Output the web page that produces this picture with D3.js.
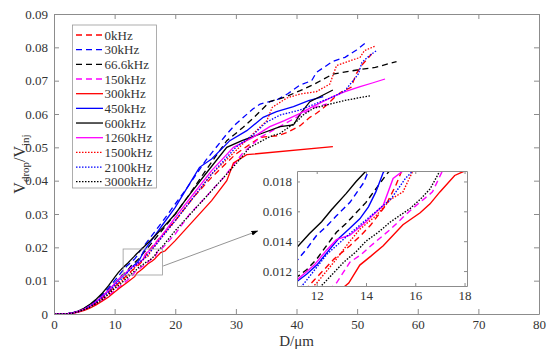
<!DOCTYPE html>
<html><head><meta charset="utf-8">
<script src="https://cdn.jsdelivr.net/npm/d3@7"></script>
<style>
body{margin:0;background:#fff}
svg{display:block}
</style>
</head><body>
<svg id="c" width="550" height="352"></svg>
<script>
// ---------- data ----------
const seriesNames = ["0kHz","30kHz","66.6kHz","150kHz","300kHz","450kHz","600kHz","1260kHz","1500kHz","2100kHz","3000kHz"];

const s0 = [[0,0],[1,0],[2,0.00003],[3,0.0003],[4,0.0007],[5,0.0014],[6,0.0023],[7,0.0034],[8,0.0048],[9,0.0064],[10,0.0082],[11,0.0098],[11.9,0.0114],[12.3,0.0121],[12.7,0.0128],[13.35,0.0137],[13.8,0.0144],[14.2,0.0151],[14.8,0.0164],[15.2,0.0177],[15.45,0.0187],[16,0.0198],[18,0.024],[20,0.028],[23,0.035],[26,0.041],[30,0.048],[34,0.053],[37,0.0535],[38.5,0.0545],[40.6,0.0565],[42.2,0.059],[43.3,0.0602],[45,0.0627],[46.4,0.0652],[47.5,0.0667],[49,0.068],[49.9,0.0722],[50.8,0.0747],[52.4,0.078]];
const s30 = [[0,0],[1,0],[2,0.00004],[3,0.0003],[4,0.0009],[5,0.0017],[6,0.0028],[7,0.0042],[8,0.0059],[9,0.0078],[10,0.0100],[10.6,0.0113],[11.2,0.0127],[11.6,0.0135],[12,0.0144],[12.4,0.0150],[12.8,0.0157],[13.35,0.0166],[13.9,0.0179],[14.1,0.0187],[16,0.0232],[18,0.028],[20,0.033],[22,0.038],[25,0.046],[28.5,0.054],[30,0.057],[32.8,0.0615],[34,0.063],[36.7,0.0642],[38.5,0.066],[40.6,0.0687],[42.5,0.070],[43.3,0.0725],[46,0.0758],[48,0.077],[49.9,0.0792],[51.5,0.0815]];
const s66 = [[0,0],[1,0],[2,0.00003],[3,0.0003],[4,0.0008],[5,0.0016],[6,0.0026],[7,0.0039],[8,0.0054],[9,0.0072],[10,0.0092],[10.6,0.0104],[11.2,0.0116],[11.6,0.0121],[12,0.0128],[12.4,0.0137],[12.8,0.0146],[13.2,0.0152],[13.6,0.0159],[14.0,0.0166],[14.4,0.0175],[14.8,0.0184],[15.1,0.0190],[18,0.0255],[20,0.030],[22,0.035],[25,0.043],[28.5,0.052],[31.2,0.056],[33,0.059],[35.6,0.0637],[38,0.065],[40.6,0.067],[43,0.069],[46,0.072],[50,0.0732],[53,0.074],[56.5,0.0757]];
const s150 = [[0,0],[1,0],[2,0.00002],[3,0.0002],[4,0.0006],[5,0.0012],[6,0.0020],[7,0.0029],[8,0.0041],[9,0.0055],[10,0.0070],[11,0.0085],[12,0.0100],[12.8,0.0112],[13.35,0.0126],[13.8,0.0131],[14.2,0.0137],[15.0,0.0148],[15.5,0.0156],[15.9,0.0162],[16.7,0.0173],[17.1,0.0187],[18,0.020],[20,0.024],[22.4,0.030],[25,0.035],[28,0.041],[31,0.048],[34,0.053],[37,0.056],[40,0.059],[43,0.062],[45,0.063]];
const s300 = [[0,0],[1,0],[2,0.00002],[3,0.0002],[4,0.0006],[5,0.0011],[6,0.0018],[7,0.0028],[8,0.0039],[9,0.0051],[10,0.0066],[11,0.0080],[12,0.0094],[13.3,0.0112],[13.75,0.0124],[14.2,0.0130],[14.7,0.0137],[15.1,0.0144],[15.5,0.0151],[16.2,0.0159],[16.6,0.0165],[17,0.0173],[17.6,0.0184],[18,0.0187],[18.3,0.0189],[20,0.022],[23,0.028],[26,0.034],[28.5,0.040],[29.6,0.0453],[31.8,0.0478],[46,0.0502]];
const s450 = [[0,0],[1,0],[2,0.00003],[3,0.0003],[4,0.0008],[5,0.0015],[6,0.0025],[7,0.0038],[8,0.0053],[9,0.0070],[10,0.0090],[10.6,0.0102],[11.2,0.0113],[11.6,0.0118],[12,0.0124],[12.5,0.0134],[12.9,0.0142],[13.3,0.0148],[13.75,0.0155],[14.1,0.0163],[14.4,0.0173],[14.7,0.0186],[15,0.0193],[18,0.027],[20,0.032],[22,0.038],[24,0.044],[26,0.0465],[29,0.052],[31.8,0.055],[34.5,0.059],[36.7,0.0607],[39.5,0.0622],[42,0.064],[44.4,0.0652]];
const s600 = [[0,0],[1,0],[2,0.00004],[3,0.0003],[4,0.0009],[5,0.0018],[6,0.0030],[7,0.0045],[8,0.0063],[9,0.0085],[10,0.0110],[10.6,0.0124],[11.2,0.0136],[11.7,0.0145],[12.2,0.0153],[12.6,0.0161],[13.2,0.0172],[13.6,0.0180],[14.0,0.0187],[16,0.0222],[18,0.026],[20,0.030],[22,0.035],[25,0.042],[28.5,0.050],[31,0.052],[34,0.054],[37.3,0.0562],[39.5,0.0567],[40.6,0.060],[42.2,0.0637],[44.4,0.0657],[46,0.0672]];
const s1260 = [[0,0],[1,0],[2,0.00003],[3,0.0003],[4,0.0008],[5,0.0015],[6,0.0025],[7,0.0038],[8,0.0053],[9,0.0071],[10,0.0091],[10.6,0.0103],[11.2,0.0114],[11.9,0.0124],[12.4,0.0134],[12.8,0.0141],[13.35,0.0144],[14.0,0.0153],[14.7,0.0164],[15.1,0.0182],[15.5,0.0187],[16,0.0195],[18,0.024],[20,0.029],[23,0.036],[26,0.043],[29.6,0.050],[32.8,0.053],[35.6,0.0562],[38,0.058],[40.6,0.0602],[43,0.0625],[46,0.0652],[48,0.0667],[50.5,0.0682],[52.5,0.0693],[54.6,0.0705]];
const s1500 = [[0,0],[1,0],[2,0.00003],[3,0.0002],[4,0.0007],[5,0.0014],[6,0.0022],[7,0.0034],[8,0.0047],[9,0.0062],[10,0.0080],[11,0.0096],[12,0.0112],[12.8,0.0128],[13.3,0.0139],[13.75,0.0148],[14.4,0.0157],[15,0.0168],[15.5,0.0173],[15.9,0.0187],[18,0.0235],[20,0.028],[23,0.035],[26,0.042],[30,0.049],[32.8,0.054],[35.1,0.058],[36,0.062],[38.4,0.0648],[40.6,0.066],[43.3,0.0667],[45.5,0.069],[46.6,0.0745],[50.5,0.077],[51.2,0.079],[53,0.0804]];
const s2100 = [[0,0],[1,0],[2,0.00003],[3,0.0003],[4,0.0007],[5,0.0014],[6,0.0024],[7,0.0036],[8,0.0050],[9,0.0066],[10,0.0085],[10.8,0.0099],[11.5,0.0112],[12.4,0.0131],[12.8,0.0137],[13.2,0.0143],[13.7,0.0150],[14.2,0.0157],[15.0,0.0168],[15.6,0.0182],[15.9,0.0187],[18,0.0235],[20,0.028],[23,0.035],[26,0.042],[30,0.050],[33,0.054],[35,0.0575],[37.3,0.0597],[40.6,0.0612],[43,0.063],[46.1,0.0652],[48,0.067],[50.2,0.072],[50.8,0.0755],[52,0.0775],[53.2,0.079]];
const s3000 = [[0,0],[1,0],[2,0.00003],[3,0.0002],[4,0.0007],[5,0.0013],[6,0.0021],[7,0.0032],[8,0.0044],[9,0.0059],[10,0.0076],[11,0.0091],[12.3,0.0112],[12.7,0.0119],[13.1,0.0126],[13.6,0.0133],[14.0,0.0140],[14.5,0.0146],[15.0,0.0153],[15.8,0.0162],[16.2,0.0168],[16.6,0.0175],[17,0.0187],[18,0.0205],[20,0.025],[23,0.031],[26,0.037],[30,0.045],[32.3,0.050],[35.6,0.0532],[37.3,0.0542],[40,0.0577],[41.1,0.0597],[42.8,0.0617],[46,0.0632],[48.3,0.0642],[52.3,0.0655]];

const seriesValues = [s0,s30,s66,s150,s300,s450,s600,s1260,s1500,s2100,s3000];

const xTicks = [0,10,20,30,40,50,60,70,80];
const yTicks = [0,0.01,0.02,0.03,0.04,0.05,0.06,0.07,0.08,0.09];
const insetXTicks = [12,14,16,18];
const insetYTicks = [0.012,0.014,0.016,0.018];
const insetXDomain = [11.2,18.1];
const insetYDomain = [0.011,0.0187];
const zoomBoxX = [11.4,17.9];
const zoomBoxY = [0.0117,0.0195];
const arrowFrom = [18.0,0.0144];
const arrowTo = [33.6,0.0249];

// ---------- styles ----------
const colors = ["#ff0000","#0000ff","#000000","#ff00ff","#ff0000","#0000ff","#000000","#ff00ff","#ff0000","#0000ff","#000000"];
const dashes = ["6,4","6,4","6,4","6,4",null,null,null,null,"1.5,1.5","1.5,1.5","1.5,1.5"];
const frameColor = "#8c8c8c";
const FONT = "'Liberation Serif', Tinos, 'Times New Roman', 'DejaVu Serif', serif";

// ---------- layout ----------
const svg = d3.select("#c");
const M = {l:54, r:539, t:14, b:314};
const x = d3.scaleLinear().domain([0,80]).range([M.l,M.r]);
const y = d3.scaleLinear().domain([0,0.09]).range([M.b,M.t]);

function styleAxis(g){
  g.attr("font-family",null);
  g.selectAll(".domain").attr("stroke",frameColor);
  g.selectAll(".tick line").attr("stroke",frameColor);
  g.selectAll(".tick text").attr("fill","#333");
}

const defs = svg.append("defs");
defs.append("clipPath").attr("id","cm").append("rect")
  .attr("x",M.l).attr("y",M.t).attr("width",M.r-M.l).attr("height",M.b-M.t);
const ciRect = defs.append("clipPath").attr("id","ci").append("rect");
defs.append("marker").attr("id","ah").attr("viewBox","0 0 10 10")
  .attr("refX",9).attr("refY",5).attr("markerWidth",7).attr("markerHeight",7)
  .attr("orient","auto").attr("markerUnits","userSpaceOnUse")
  .append("path").attr("d","M0,1.5 L10,5 L0,8.5 Z").attr("fill","#000");

// main lines
const line = d3.line().x(d=>x(d[0])).y(d=>y(d[1]));
const gMain = svg.append("g").attr("clip-path","url(#cm)");
seriesValues.forEach((s,i)=>{
  gMain.append("path").attr("d",line(s)).attr("fill","none")
    .attr("stroke",colors[i]).attr("stroke-width",1.3)
    .attr("stroke-dasharray",dashes[i]);
});

// axes
const gx = svg.append("g").attr("transform",`translate(0,${M.b})`)
  .call(d3.axisBottom(x).tickValues(xTicks).tickSizeInner(-5).tickSizeOuter(0).tickPadding(6).tickFormat(d3.format("d")));
styleAxis(gx);
const gxt = svg.append("g").attr("transform",`translate(0,${M.t})`)
  .call(d3.axisTop(x).tickValues(xTicks).tickSizeInner(-5).tickSizeOuter(0).tickFormat(""));
styleAxis(gxt);
const gy = svg.append("g").attr("transform",`translate(${M.l},0)`)
  .call(d3.axisLeft(y).tickValues(yTicks).tickSizeInner(-5).tickSizeOuter(0).tickPadding(6).tickFormat(d=>d===0?"0":d3.format(".2f")(d)));
styleAxis(gy);
const gyr = svg.append("g").attr("transform",`translate(${M.r},0)`)
  .call(d3.axisRight(y).tickValues(yTicks).tickSizeInner(-5).tickSizeOuter(0).tickFormat(""));
styleAxis(gyr);

// axis titles
svg.append("text").attr("x",(M.l+M.r)/2).attr("y",346).attr("text-anchor","middle")
  .attr("font-size",15).text("D/μm");
const yl = svg.append("text").attr("transform",`translate(25,${(M.t+M.b)/2}) rotate(-90)`)
  .attr("text-anchor","middle").attr("font-size",16);
yl.append("tspan").text("V");
yl.append("tspan").text("drop").attr("font-size",11).attr("dy","4");
yl.append("tspan").text("/V").attr("dy","-4");
yl.append("tspan").text("inj").attr("font-size",11).attr("dy","4");

// zoom box in main
svg.append("rect").attr("x",x(zoomBoxX[0])).attr("y",y(zoomBoxY[1]))
  .attr("width",x(zoomBoxX[1])-x(zoomBoxX[0])).attr("height",y(zoomBoxY[0])-y(zoomBoxY[1]))
  .attr("fill","none").attr("stroke","#999").attr("stroke-width",0.8);
// arrow
svg.append("line").attr("x1",x(arrowFrom[0])).attr("y1",y(arrowFrom[1]))
  .attr("x2",x(arrowTo[0])).attr("y2",y(arrowTo[1]))
  .attr("stroke","#888").attr("stroke-width",0.9).attr("marker-end","url(#ah)");

// legend
const L = {x:72.5,y:25,w:84,h:163,row0:35,dy:14.67};
svg.append("rect").attr("x",L.x).attr("y",L.y).attr("width",L.w).attr("height",L.h)
  .attr("fill","#fff").attr("stroke","#999").attr("stroke-width",0.8);
seriesNames.forEach((n,i)=>{
  const yy = L.row0 + i*L.dy;
  svg.append("line").attr("x1",76).attr("x2",103).attr("y1",yy).attr("y2",yy)
    .attr("stroke",colors[i]).attr("stroke-width",1.3).attr("stroke-dasharray",dashes[i]);
  svg.append("text").attr("x",104.5).attr("y",yy).attr("dy","0.35em")
    .attr("font-size",13).text(n);
});

// inset
const I = {l:297, r:467, t:171, b:286};
const xi = d3.scaleLinear().domain(insetXDomain).range([I.l,I.r]);
const yi = d3.scaleLinear().domain(insetYDomain).range([I.b,I.t]);
svg.append("rect").attr("x",I.l).attr("y",I.t).attr("width",I.r-I.l).attr("height",I.b-I.t).attr("fill","#fff");
ciRect.attr("x",I.l).attr("y",I.t).attr("width",I.r-I.l).attr("height",I.b-I.t);
const linei = d3.line().x(d=>xi(d[0])).y(d=>yi(d[1]));
const gIn = svg.append("g").attr("clip-path","url(#ci)");
seriesValues.forEach((s,i)=>{
  gIn.append("path").attr("d",linei(s)).attr("fill","none")
    .attr("stroke",colors[i]).attr("stroke-width",1.4)
    .attr("stroke-dasharray",dashes[i]);
});
const gix = svg.append("g").attr("transform",`translate(0,${I.b})`)
  .call(d3.axisBottom(xi).tickValues(insetXTicks).tickSizeInner(-3).tickSizeOuter(0).tickPadding(5).tickFormat(d3.format("d")));
styleAxis(gix);
const gixt = svg.append("g").attr("transform",`translate(0,${I.t})`)
  .call(d3.axisTop(xi).tickValues(insetXTicks).tickSizeInner(-3).tickSizeOuter(0).tickFormat(""));
styleAxis(gixt);
const giy = svg.append("g").attr("transform",`translate(${I.l},0)`)
  .call(d3.axisLeft(yi).tickValues(insetYTicks).tickSizeInner(-3).tickSizeOuter(0).tickPadding(5).tickFormat(d3.format(".3f")));
styleAxis(giy);
const giyr = svg.append("g").attr("transform",`translate(${I.r},0)`)
  .call(d3.axisRight(yi).tickValues(insetYTicks).tickSizeInner(-3).tickSizeOuter(0).tickFormat(""));
styleAxis(giyr);

// fonts for all text
svg.selectAll("text").attr("font-family",FONT).style("font-family",FONT).attr("fill","#333");
svg.selectAll(".tick text").attr("font-size",13);
</script>
</body></html>
